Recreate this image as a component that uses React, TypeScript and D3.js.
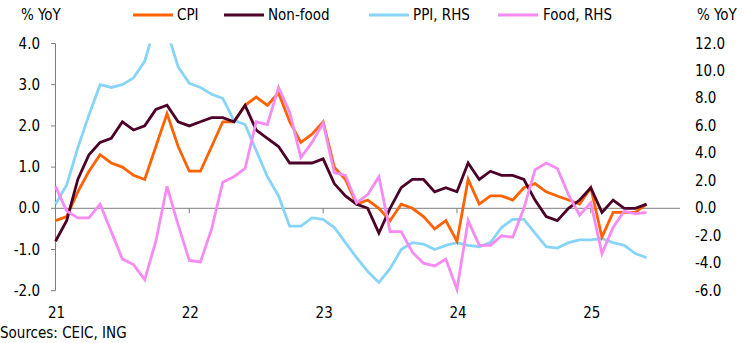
import React from "react";
import * as d3 from "d3";

// Monthly, Jan 2021 – Jun 2025
const cpi = [
  -0.3, -0.2, 0.4, 0.9, 1.3, 1.1, 1.0, 0.8, 0.7, 1.5, 2.3, 1.5,
  0.9, 0.9, 1.5, 2.1, 2.1, 2.5, 2.7, 2.5, 2.8, 2.1, 1.6, 1.8,
  2.1, 1.0, 0.7, 0.1, 0.2, 0.0, -0.3, 0.1, 0.0, -0.2, -0.5, -0.3,
  -0.8, 0.7, 0.1, 0.3, 0.3, 0.2, 0.5, 0.6, 0.4, 0.3, 0.2, 0.1,
  0.5, -0.7, -0.1, -0.1, -0.1, 0.1,
];
const nonFood = [
  -0.8, -0.3, 0.7, 1.3, 1.6, 1.7, 2.1, 1.9, 2.0, 2.4, 2.5, 2.1,
  2.0, 2.1, 2.2, 2.2, 2.1, 2.5, 1.9, 1.7, 1.5, 1.1, 1.1, 1.1,
  1.2, 0.6, 0.3, 0.1, 0.0, -0.6, 0.0, 0.5, 0.7, 0.7, 0.4, 0.5,
  0.4, 1.1, 0.7, 0.9, 0.8, 0.8, 0.7, 0.2, -0.2, -0.3, 0.0, 0.2,
  0.5, -0.1, 0.2, 0.0, 0.0, 0.1,
];
const ppi = [
  0.3, 1.7, 4.4, 6.8, 9.0, 8.8, 9.0, 9.5, 10.7, 13.5, 12.9, 10.3,
  9.1, 8.8, 8.3, 8.0, 6.4, 6.1, 4.2, 2.3, 0.9, -1.3, -1.3, -0.7,
  -0.8, -1.4, -2.5, -3.6, -4.6, -5.4, -4.4, -3.0, -2.5, -2.6, -3.0, -2.7,
  -2.5, -2.7, -2.8, -2.5, -1.4, -0.8, -0.8, -1.8, -2.8, -2.9, -2.5, -2.3,
  -2.3, -2.2, -2.5, -2.7, -3.3, -3.6,
];
const food = [
  1.6, -0.2, -0.7, -0.7, 0.3, -1.7, -3.7, -4.1, -5.2, -2.4, 1.6, -1.2,
  -3.8, -3.9, -1.5, 1.9, 2.3, 2.9, 6.3, 6.1, 8.8, 7.0, 3.7, 4.8,
  6.2, 2.6, 2.4, 0.4, 1.0, 2.3, -1.7, -1.7, -3.2, -4.0, -4.2, -3.7,
  -5.9, -0.9, -2.7, -2.7, -2.0, -2.1, 0.0, 2.8, 3.3, 2.9, 1.0, -0.5,
  0.4, -3.3, -1.4, -0.2, -0.4, -0.3,
];
const leftTicks = [4, 3, 2, 1, 0, -1, -2];
const rightTicks = [12, 10, 8, 6, 4, 2, 0, -2, -4, -6];
const yearLabels = ["21", "22", "23", "24", "25"];
const legendNames = ["CPI", "Non-food", "PPI, RHS", "Food, RHS"];

const FONT = "'DejaVu Sans Condensed', 'Open Sans', sans-serif";
const AXIS = "#7f7f7f";

export default function App() {
  const W = 745, H = 343;
  const x = d3.scaleLinear().domain([0, 56]).range([55.5, 680]);
  const yL = d3.scaleLinear().domain([-2, 4]).range([290.7, 43.5]);
  const yR = d3.scaleLinear().domain([-6, 12]).range([290.7, 43.5]);

  const lineL = d3.line<number>().x((_, i) => x(i)).y((d) => yL(d));
  const lineR = d3.line<number>().x((_, i) => x(i)).y((d) => yR(d));

  const series = [
    { name: legendNames[2], data: ppi, gen: lineR, color: "#88d4f9" },
    { name: legendNames[0], data: cpi, gen: lineL, color: "#ff6200" },
    { name: legendNames[1], data: nonFood, gen: lineL, color: "#4c0027" },
    { name: legendNames[3], data: food, gen: lineR, color: "#f68bf4" },
  ];
  const legendOrder = [
    { name: legendNames[0], color: "#ff6200", lx: 133, tx: 177 },
    { name: legendNames[1], color: "#4c0027", lx: 224, tx: 268 },
    { name: legendNames[2], color: "#88d4f9", lx: 369, tx: 413 },
    { name: legendNames[3], color: "#f68bf4", lx: 498, tx: 543 },
  ];

  return (
    <svg width={W} height={H} style={{ position: "absolute", left: 0, top: 0, background: "#fff" }}>
      <defs>
        <clipPath id="plot">
          <rect x={40} y={yL(4)} width={660} height={yL(-2) - yL(4) + 20} />
        </clipPath>
      </defs>
      <g fontFamily={FONT} fontSize={15} fill="#000">
        <text x={21} y={20}>% YoY</text>
        <text x={697} y={20}>% YoY</text>
        {legendOrder.map((l) => (
          <g key={l.name}>
            <line x1={l.lx} x2={l.lx + 40} y1={15} y2={15} stroke={l.color} strokeWidth={3} />
            <text x={l.tx} y={20}>{l.name}</text>
          </g>
        ))}
        {leftTicks.map((t) => (
          <g key={"l" + t}>
            <line x1={51} x2={55.5} y1={yL(t)} y2={yL(t)} stroke={AXIS} strokeWidth={1} />
            <text x={40} y={yL(t) + 5} textAnchor="end">{t.toFixed(1)}</text>
          </g>
        ))}
        {rightTicks.map((t) => (
          <text key={"r" + t} x={695} y={yR(t) + 5}>{t.toFixed(1)}</text>
        ))}
        <line x1={55.5} x2={55.5} y1={yL(4)} y2={yL(-2)} stroke={AXIS} strokeWidth={1} />
        <line x1={55.5} x2={680} y1={yL(0)} y2={yL(0)} stroke={AXIS} strokeWidth={1} />
        {yearLabels.map((lab, k) => (
          <g key={lab}>
            {k > 0 && (
              <line x1={x(k * 12)} x2={x(k * 12)} y1={yL(0)} y2={yL(0) + 5} stroke={AXIS} strokeWidth={1} />
            )}
            <text x={x(k * 12) + 1} y={318} textAnchor="middle">{lab}</text>
          </g>
        ))}
        <text x={0} y={338}>Sources: CEIC, ING</text>
      </g>
      <g clipPath="url(#plot)">
        {series.map((s) => (
          <path key={s.name} d={s.gen(s.data) || ""} fill="none" stroke={s.color} strokeWidth={2.8} strokeLinejoin="miter" />
        ))}
      </g>
    </svg>
  );
}
